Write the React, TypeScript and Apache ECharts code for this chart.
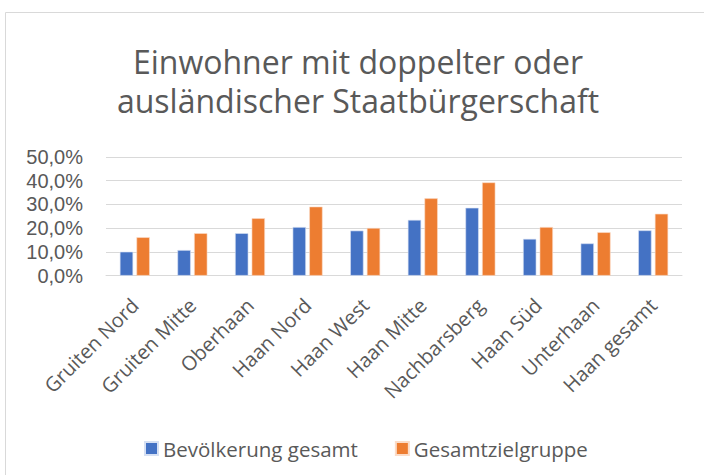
import React, { useEffect, useRef } from "react";
import * as echarts from "echarts";

const categories = [
  "Gruiten Nord",
  "Gruiten Mitte",
  "Oberhaan",
  "Haan Nord",
  "Haan West",
  "Haan Mitte",
  "Nachbarsberg",
  "Haan Süd",
  "Unterhaan",
  "Haan gesamt",
];
const bevoelkerungGesamt = [10.1, 10.8, 17.9, 20.5, 19.0, 23.5, 28.6, 15.5, 13.6, 19.1];
const gesamtzielgruppe = [16.2, 17.9, 24.2, 29.1, 20.1, 32.6, 39.3, 20.5, 18.3, 26.1];
const seriesNames = ["Bevölkerung gesamt", "Gesamtzielgruppe"];
const titleLines = ["Einwohner mit doppelter oder", "ausländischer Staatbürgerschaft"];

const FONT = "'Open Sans', sans-serif";
const YFONT = "'Liberation Sans', Arial, sans-serif";
const TEXT = "#595959";

export default function App() {
  const ref = useRef<HTMLDivElement>(null);
  useEffect(() => {
    document.body.style.margin = "0";
    const chart = echarts.init(ref.current!, undefined, { renderer: "svg" });
    chart.setOption({
      animation: false,
      backgroundColor: "#ffffff",
      textStyle: { fontFamily: FONT },
      graphic: [
        {
          type: "rect",
          z: -1,
          shape: { x: 5.5, y: 12.5, width: 720, height: 500 },
          style: { fill: "none", stroke: "#d9d9d9", lineWidth: 1 },
        },
        {
          type: "text",
          x: 358,
          y: 61,
          style: {
            text: titleLines[0],
            fill: TEXT,
            font: `32px ${FONT}`,
            textAlign: "center",
            textVerticalAlign: "middle",
          },
        },
        {
          type: "text",
          x: 358,
          y: 100.5,
          style: {
            text: titleLines[1],
            fill: TEXT,
            font: `32px ${FONT}`,
            textAlign: "center",
            textVerticalAlign: "middle",
          },
        },
      ],
      legend: {
        left: 139,
        top: 433,
        itemWidth: 13,
        itemHeight: 13,
        itemGap: 37,
        icon: "rect",
        textStyle: { color: TEXT, fontSize: 20.5, fontFamily: FONT },
        data: seriesNames,
      },
      grid: { left: 106, right: 22, top: 157, bottom: 199.3 },
      xAxis: {
        type: "category",
        data: categories,
        axisLine: { lineStyle: { color: "#d9d9d9", width: 1 } },
        axisTick: { show: false },
        axisLabel: {
          rotate: 45,
          interval: 0,
          margin: 26,
          color: TEXT,
          fontSize: 20,
          fontFamily: FONT,
        },
      },
      yAxis: {
        type: "value",
        min: 0,
        max: 50,
        interval: 10,
        axisLine: { show: false },
        axisTick: { show: false },
        splitLine: { lineStyle: { color: "#d9d9d9", width: 1 } },
        axisLabel: {
          margin: 23,
          color: TEXT,
          fontSize: 20,
          lineHeight: 20,
          fontFamily: YFONT,
          formatter: (v: number) => v.toFixed(1).replace(".", ",") + "%",
        },
      },
      series: [
        {
          name: seriesNames[0],
          type: "bar",
          data: bevoelkerungGesamt,
          barWidth: 13.3,
          barGap: "25%",
          itemStyle: { color: "#4472C4", borderColor: "#d6e0f3", borderWidth: 0.6 },
        },
        {
          name: seriesNames[1],
          type: "bar",
          data: gesamtzielgruppe,
          barWidth: 13.3,
          barGap: "25%",
          itemStyle: { color: "#ED7D31", borderColor: "#fbdcc8", borderWidth: 0.6 },
        },
      ],
    });
    return () => chart.dispose();
  }, []);
  return (
    <div
      ref={ref}
      style={{ position: "absolute", left: 0, top: 0, width: 704, height: 475 }}
    />
  );
}
